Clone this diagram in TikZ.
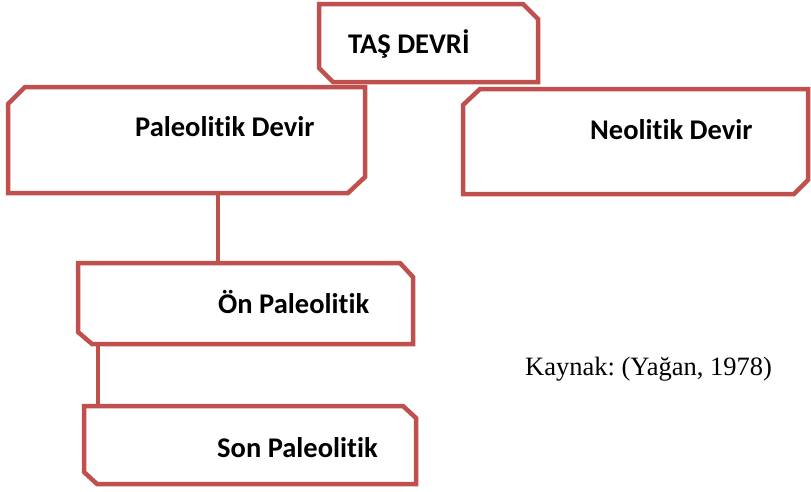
\documentclass[tikz,border=0pt]{standalone}
\usepackage{fontspec}
\setmainfont[Ligatures=CommonOff]{Carlito}
\newfontfamily\timesfont{Liberation Serif}
\definecolor{boxred}{RGB}{192,80,77}
\frenchspacing
\begin{document}
\begin{tikzpicture}[x=1pt,y=-1pt,
  boxshape/.style={draw=none,fill=white,inner sep=0pt,outer sep=0pt},
  outline/.style={draw=boxred,line width=4.5pt,line join=miter,fill=white},
  conn/.style={draw=boxred,line width=4pt},
  lbl/.style={anchor=base west,inner sep=0pt,font=\bfseries\fontsize{28.5}{34}\selectfont}]
\useasboundingbox (0,0) rectangle (811,491);
% boxes (invisible named nodes giving the frames)
\node[boxshape,minimum width=219pt,minimum height=78pt] (tas) at (428.5,43) {};
\node[boxshape,minimum width=357pt,minimum height=106pt] (pal) at (186.5,140) {};
\node[boxshape,minimum width=345pt,minimum height=105pt] (neo) at (635.5,141.5) {};
\node[boxshape,minimum width=335pt,minimum height=81pt] (on) at (245.5,303.5) {};
\node[boxshape,minimum width=332pt,minimum height=78pt] (son) at (250,445) {};
% outlines
\path[outline] (tas.north west) -- ([xshift=-15pt]tas.north east) -- ([yshift=-15pt]tas.north east)
  -- (tas.south east) -- ([xshift=14pt]tas.south west) -- ([yshift=14pt]tas.south west) -- cycle;
\path[outline] ([xshift=17pt]pal.north west) -- (pal.north east) -- ([yshift=16pt]pal.south east)
  -- ([xshift=-17pt]pal.south east) -- (pal.south west) -- ([yshift=-17pt]pal.north west) -- cycle;
\path[outline] ([xshift=17pt]neo.north west) -- (neo.north east) -- ([yshift=14pt]neo.south east)
  -- ([xshift=-14pt]neo.south east) -- (neo.south west) -- ([yshift=-16pt]neo.north west) -- cycle;
\path[outline] (on.north west) -- ([xshift=-13pt]on.north east) -- ([yshift=-14pt]on.north east)
  -- (on.south east) -- ([xshift=14pt]on.south west) -- ([yshift=12pt]on.south west) -- cycle;
\path[outline] (son.north west) -- ([xshift=-13pt]son.north east) -- ([yshift=-12pt]son.north east)
  -- (son.south east) -- ([xshift=13pt]son.south west) -- ([yshift=12pt]son.south west) -- cycle;
% connectors
\draw[conn] ([xshift=140pt]on.north west) -- ([xshift=140pt]on.north west |- pal.south);
\draw[conn] ([xshift=14pt]son.north west) -- ([xshift=14pt]son.north west |- on.south);
% labels
\node[lbl] (tasl) at (348,53) {TAŞ DEVRİ};
\node[lbl] (pall) at (135,136) {Paleolitik Devir};
\node[lbl] (neol) at (590,139) {Neolitik Devir};
\node[lbl] (onl) at (218,313) {Ön Paleolitik};
\node[lbl] (sonl) at (217,457) {Son Paleolitik};
\node[anchor=base west,inner sep=0pt,font=\timesfont\fontsize{26.5}{32}\selectfont] (src) at (525,375) {Kaynak: (Yağan, 1978)};
\end{tikzpicture}
\end{document}
